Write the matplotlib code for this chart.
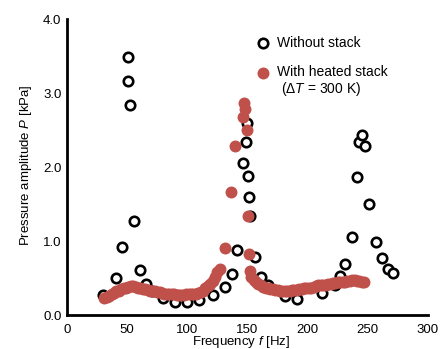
import matplotlib
matplotlib.use("Agg")
import matplotlib.pyplot as plt
from matplotlib.lines import Line2D

plt.rcParams['font.family'] = ['Liberation Sans', 'DejaVu Sans']
plt.rcParams['mathtext.fontset'] = 'custom'
plt.rcParams['mathtext.rm'] = 'Liberation Sans'
plt.rcParams['mathtext.it'] = 'Liberation Sans:italic'

# Without stack (open circles)
f_open = [30, 40.5, 45.5, 51, 51, 52.4, 55.5, 60.5, 65.5, 71, 80, 90, 100, 110,
          121, 131, 137, 141, 146, 148.5, 149.4, 150, 151.6, 152, 156, 161, 167,
          181, 191, 211.7, 222.8, 226.5, 231, 236.5, 241, 243, 245.5, 247.5,
          251.3, 256.5, 262, 266.5, 271.3]
p_open = [0.27, 0.50, 0.92, 3.48, 3.16, 2.84, 1.27, 0.61, 0.42, 0.32, 0.23, 0.18, 0.18, 0.20,
          0.27, 0.38, 0.55, 0.88, 2.06, 2.34, 2.60, 1.88, 1.60, 1.34, 0.78, 0.51, 0.41,
          0.26, 0.22, 0.30, 0.41, 0.53, 0.69, 1.06, 1.87, 2.34, 2.43, 2.28,
          1.50, 0.99, 0.77, 0.62, 0.57]

# With heated stack (filled red)
f_heat = [31, 33, 35, 37, 39, 41, 43, 45, 47, 49, 51, 53, 55, 57, 59, 61, 63, 65,
          67, 69, 71, 73, 75, 77, 79, 81, 83, 85, 87, 89, 91, 93, 95, 97, 99, 101,
          103, 105, 107, 109, 111, 113, 115, 117, 119, 121, 123, 125, 127,
          131, 136, 140, 146, 146.8, 148.3, 149.2, 150.7, 151.6, 152,
          153, 155, 157, 159, 161, 163, 165, 167, 169, 171, 173, 175, 177, 179,
          181, 183, 185, 187, 189, 191, 193, 195, 197, 199, 201, 203, 205, 207,
          209, 211, 213, 215, 217, 219, 221, 223, 225, 227, 229, 231, 233, 235,
          237, 239, 241, 243, 245, 247]
p_heat = [0.23, 0.25, 0.26, 0.28, 0.30, 0.32, 0.33, 0.35, 0.36, 0.37, 0.38, 0.39, 0.39,
          0.38, 0.37, 0.36, 0.35, 0.35, 0.34, 0.33, 0.33, 0.32, 0.31, 0.31, 0.30, 0.29,
          0.29, 0.28, 0.28, 0.28, 0.27, 0.27, 0.27, 0.27, 0.28, 0.28, 0.28, 0.28, 0.29,
          0.30, 0.31, 0.33, 0.36, 0.39, 0.42, 0.46, 0.52, 0.58, 0.62,
          0.90, 1.66, 2.29, 2.68, 2.87, 2.79, 2.50, 1.34, 0.82, 0.59,
          0.52, 0.47, 0.44, 0.42, 0.40, 0.38, 0.37, 0.36, 0.35, 0.35, 0.34, 0.34, 0.33,
          0.33, 0.33, 0.33, 0.33, 0.34, 0.34, 0.34, 0.35, 0.35, 0.36, 0.36, 0.37, 0.37,
          0.38, 0.39, 0.40, 0.40, 0.41, 0.41, 0.42, 0.42, 0.43, 0.43, 0.44, 0.44, 0.45,
          0.45, 0.46, 0.46, 0.47, 0.47, 0.46, 0.46, 0.45, 0.45]

x_ticks = [0, 50, 100, 150, 200, 250, 300]
y_ticks = [0.0, 1.0, 2.0, 3.0, 4.0]
red = '#c0504a'

W, H = 443, 349
fig = plt.figure(figsize=(W / 100, H / 100), dpi=100)
ax = fig.add_axes([67 / W, 1 - 315 / H, (428 - 67) / W, (315 - 19) / H])

ax.plot(f_open, p_open, linestyle='none', marker='o', ms=6.8, mfc='white',
        mec='black', mew=1.9, zorder=2)
ax.plot(f_heat, p_heat, linestyle='none', marker='o', ms=8.6, mfc=red,
        mec=red, mew=0, zorder=3)

ax.set_xlim(0, 300)
ax.set_ylim(0, 4)
ax.set_xticks(x_ticks)
ax.set_xticklabels([str(v) for v in x_ticks])
ax.set_yticks(y_ticks)
ax.set_yticklabels([f"{v:.1f}" for v in y_ticks])
ax.tick_params(axis='both', length=0, labelsize=9.5)
ax.tick_params(axis='x', pad=6.5)
ax.tick_params(axis='y', pad=4)
for s in ['top', 'right']:
    ax.spines[s].set_visible(False)
for s in ['left', 'bottom']:
    ax.spines[s].set_linewidth(2)

ax.set_xlabel(r"Frequency $\mathit{f}$ [Hz]", fontsize=9.5)
ax.xaxis.label.set_va('baseline')
ax.xaxis.set_label_coords((241 - 67) / (428 - 67), (315 - 345.5) / (315 - 19))
ax.set_ylabel(r"Pressure amplitude $\mathit{P}$ [kPa]", fontsize=9.5)
ax.yaxis.label.set_va('center')
ax.yaxis.set_label_coords((26 - 67) / (428 - 67), (315 - 165) / (315 - 19))

# Legend drawn manually
fig.add_artist(Line2D([263 / W], [1 - 43 / H], linestyle='none', marker='o', ms=6.8,
                      mfc='white', mec='black', mew=1.9, transform=fig.transFigure))
fig.add_artist(Line2D([263 / W], [1 - 72.5 / H], linestyle='none', marker='o', ms=8.6,
                      mfc=red, mec=red, mew=0, transform=fig.transFigure))
fig.text(277 / W, 1 - 43 / H, "Without stack", fontsize=10, va='center', ha='left')
fig.text(277 / W, 1 - 72 / H, "With heated stack", fontsize=10, va='center', ha='left')
fig.text(281 / W, 1 - 89 / H, r"(Δ$\mathit{T}$ = 300 K)", fontsize=10, va='center', ha='left')

fig.savefig("out.png", dpi=100)
